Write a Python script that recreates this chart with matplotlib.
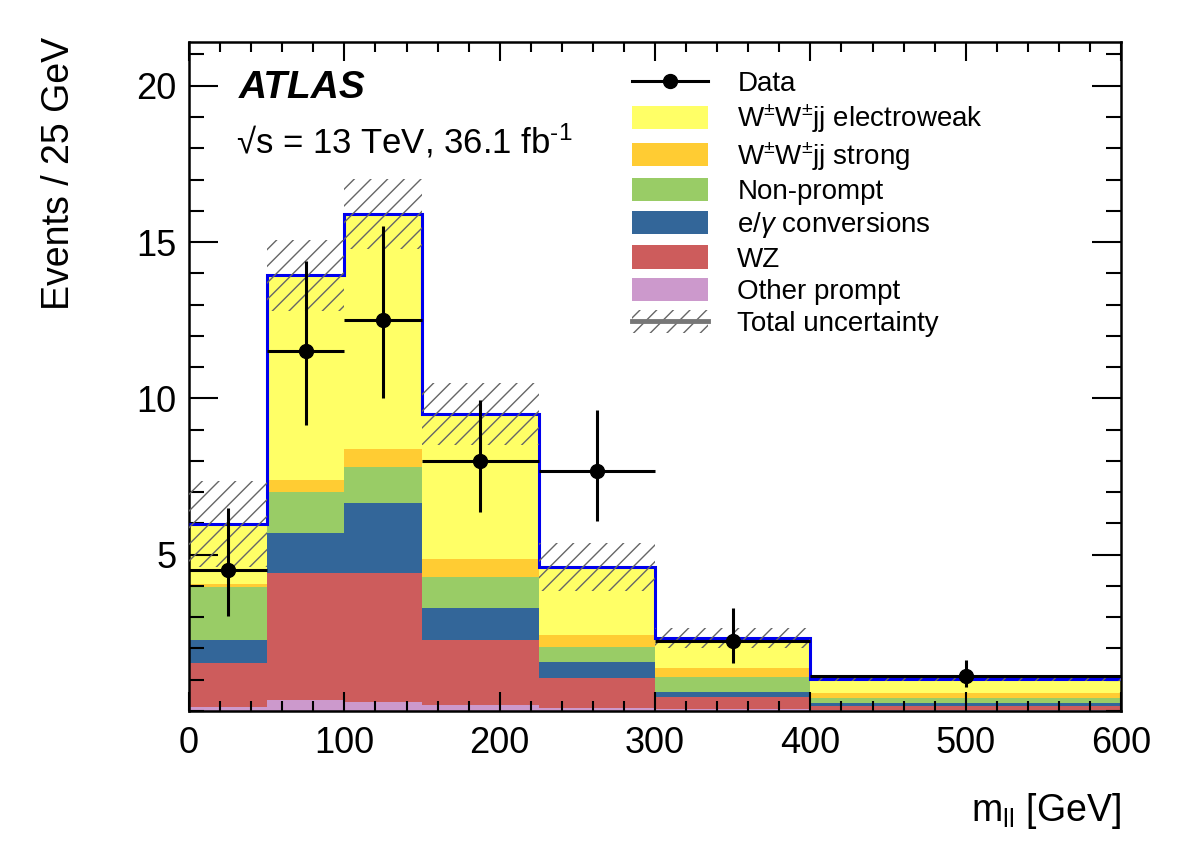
import numpy as np
import matplotlib
matplotlib.use("Agg")
import matplotlib.pyplot as plt
from matplotlib.patches import Patch
from matplotlib.lines import Line2D
from matplotlib.ticker import MultipleLocator

plt.rcParams['font.family'] = ['Liberation Sans', 'DejaVu Sans']
plt.rcParams['mathtext.fontset'] = 'custom'
plt.rcParams['mathtext.rm'] = 'Liberation Sans'
plt.rcParams['mathtext.it'] = 'Liberation Sans:italic'
plt.rcParams['mathtext.bf'] = 'Liberation Sans:bold'
plt.rcParams['hatch.linewidth'] = 1.0

# bin edges in m_ll [GeV]
edges = [0, 50, 100, 150, 225, 300, 400, 600]

# stacked backgrounds / signal, events per 25 GeV (bottom -> top)
other_prompt = [0.13, 0.35, 0.30, 0.20, 0.10, 0.05, 0.03]
wz = [1.40, 4.05, 4.10, 2.07, 0.95, 0.40, 0.13]
conversions = [0.74, 1.28, 2.25, 1.03, 0.52, 0.15, 0.09]
non_prompt = [1.69, 1.32, 1.15, 1.00, 0.47, 0.49, 0.15]
wwjj_strong = [0.10, 0.40, 0.57, 0.56, 0.39, 0.28, 0.18]
wwjj_ewk = [1.91, 6.53, 7.53, 4.63, 2.17, 0.96, 0.43]

# total uncertainty (half width of band)
total_unc = [1.38, 1.12, 1.13, 0.99, 0.77, 0.32, 0.06]

# data
data_x = [25, 75, 125, 187.5, 262.5, 350, 500]
data_y = [4.5, 11.5, 12.5, 8.0, 7.67, 2.25, 1.125]
data_up = [2.0, 2.9, 3.0, 1.95, 1.95, 1.03, 0.50]
data_down = [1.45, 2.35, 2.5, 1.63, 1.6, 0.70, 0.35]

samples = [
    (other_prompt, '#cc99cc', 'Other prompt'),
    (wz, '#cd5c5c', 'WZ'),
    (conversions, '#336699', r'e/$\gamma$ conversions'),
    (non_prompt, '#99cc66', 'Non-prompt'),
    (wwjj_strong, '#ffcc33', r'W$^{\pm}$W$^{\pm}$jj strong'),
    (wwjj_ewk, '#ffff66', r'W$^{\pm}$W$^{\pm}$jj electroweak'),
]

fig = plt.figure(figsize=(11.82, 8.48), dpi=100)
ax = fig.add_axes([0.16, 0.1616, 0.7884, 0.7889])

edges_a = np.array(edges, dtype=float)
bottom = np.zeros(len(edges) - 1)
handles = {}
for vals, col, lab in samples:
    top = bottom + np.array(vals)
    ax.stairs(top, edges_a, baseline=bottom, fill=True, color=col, lw=0)
    handles[lab] = Patch(facecolor=col, edgecolor='none')
    bottom = top
total = bottom

# total prediction outline
ax.stairs(total, edges_a, color='#0000ee', lw=2.2, baseline=None, zorder=3)

# uncertainty band
unc = np.array(total_unc)
ax.bar(edges_a[:-1], 2 * unc, bottom=total - unc, width=np.diff(edges_a),
       align='edge', fill=False, hatch='//', edgecolor='#666666', lw=0, zorder=4)

# data points
xerr = np.diff(edges_a) / 2
ax.errorbar(data_x, data_y, xerr=xerr, yerr=[data_down, data_up],
            fmt='o', color='black', ms=10, elinewidth=2.2, capsize=0, zorder=5)

ax.set_xlim(0, 600)
ax.set_ylim(0, 21.4)
ax.xaxis.set_major_locator(MultipleLocator(100))
ax.xaxis.set_minor_locator(MultipleLocator(20))
ax.yaxis.set_major_locator(MultipleLocator(5))
ax.yaxis.set_minor_locator(MultipleLocator(1))
ax.set_yticks([5, 10, 15, 20])
ax.tick_params(axis='both', which='both', direction='in', top=True, right=True,
               width=1.5, labelsize=26)
ax.tick_params(axis='x', which='major', length=14, pad=11)
ax.tick_params(axis='x', which='minor', length=7)
ax.tick_params(axis='y', which='major', length=21, pad=9)
ax.tick_params(axis='y', which='minor', length=11)
for sp in ax.spines.values():
    sp.set_linewidth(1.8)

ax.set_xlabel(r'm$_{\rm ll}$ [GeV]', fontsize=27)
ax.xaxis.set_label_coords(1.0, -0.12)
ax.xaxis.label.set_ha('right')
ax.set_ylabel('Events / 25 GeV', fontsize=27)
ax.yaxis.set_label_coords(-0.12, 1.008)
ax.yaxis.label.set_ha('right')

ax.text(0.053, 0.931, 'ATLAS', transform=ax.transAxes, fontsize=28,
        fontweight='bold', fontstyle='italic', va='center', ha='left')
ax.text(0.05, 0.852, '\u221as = 13 TeV, 36.1 fb$^{\\text{-1}}$', transform=ax.transAxes,
        fontsize=25, va='center', ha='left')

data_handle = Line2D([], [], color='black', marker='o', ms=10, lw=2.2)
unc_handle = (Patch(fill=False, hatch='//', edgecolor='#666666', lw=0),
              Line2D([], [], color='#777777', lw=3.5))
leg_handles = [data_handle] + [handles[s[2]] for s in samples[::-1]] + [unc_handle]
leg_labels = ['Data'] + [s[2] for s in samples[::-1]] + ['Total uncertainty']
ax.legend(leg_handles, leg_labels, loc='upper left', bbox_to_anchor=(0.475, 0.958),
          frameon=False, fontsize=20, handlelength=2.75, handleheight=0.9,
          handletextpad=1.05, labelspacing=0.19, borderpad=0, borderaxespad=0)

fig.savefig('out.png', dpi=100)
